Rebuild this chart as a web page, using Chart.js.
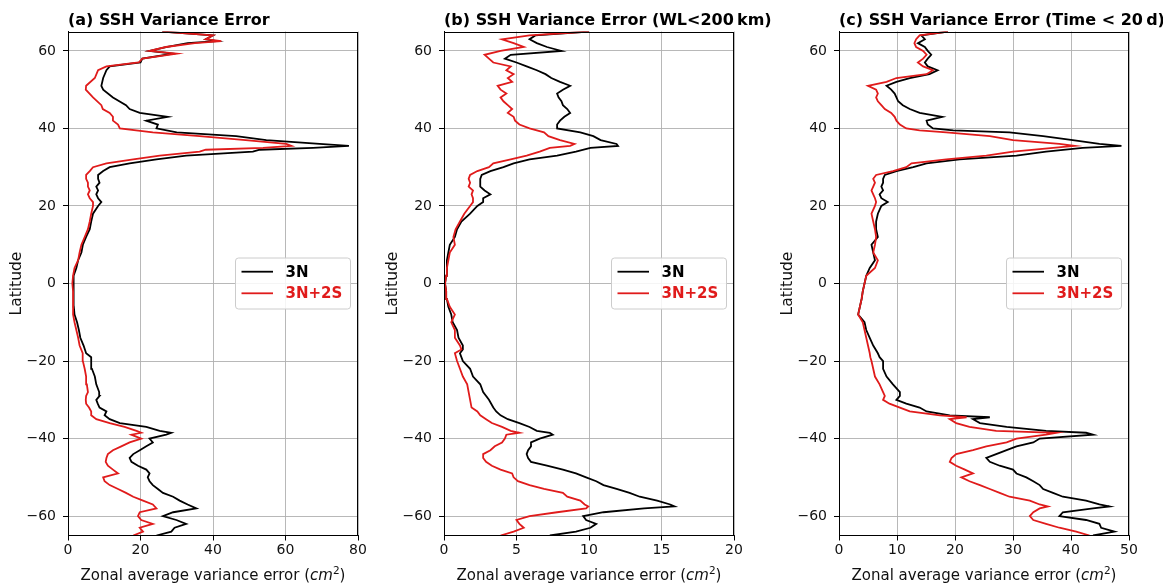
<!DOCTYPE html>
<html>
<head>
<meta charset="utf-8">
<script src="https://cdn.jsdelivr.net/npm/chart.js@4.4.1/dist/chart.umd.min.js"></script>
<style>
  html, body { margin: 0; padding: 0; background: #fff; }
  body { width: 1165px; height: 584px; position: relative; overflow: hidden; }
  canvas { position: absolute; top: 0; }
</style>
</head>
<body>
<canvas id="panelA"></canvas>
<canvas id="panelB"></canvas>
<canvas id="panelC"></canvas>
<script>
// ── data ─────────────────────────────────────────
const SERIES_NAMES = ["3N", "3N+2S"];
const PANEL_TITLES = [
  "(a) SSH Variance Error",
  "(b) SSH Variance Error (WL<200\u2009km)",
  "(c) SSH Variance Error (Time < 20\u2009d)",
];
const X_TITLE = ["Zonal average variance error (", "cm", "2", ")"];
const Y_TITLE = "Latitude";

const LAT_RANGE = [-65, 65];
const LAT_TICKS = [-60, -40, -20, 0, 20, 40, 60];
const X_TICKS_A = [0, 20, 40, 60, 80];
const X_TICKS_B = [0, 5, 10, 15, 20];
const X_TICKS_C = [0, 10, 20, 30, 40, 50];

// (a) total
const LAT_A = [-65,-64,-63,-62,-61,-60,-59,-58,-57,-56,-55,-54,-53,-52,-51,-50,-49,-48,-47,-46,-45,-44,-43,-42,-41,-40,-39,
  -38.5,-38,-37,-36,-35,-34,-33,-32,-31,-30,-29,-28,-26,-24,-22,-20,-19,-18,-16,-14,-12,-10,-8,-6,-4,-2,0,
  2,4,6,8,10,12,14,16,18,20,21,22,23,24,25,26,27,28,29,30,31,32,33,34,34.5,35,35.5,
  36,37,38,39,40,41,42,43,44,45,46,48,50,51,53,55,56,57,58,59.3,60,61,62,62.5,63,64,65];
const A_3N = [24.4,28.5,29.4,32.6,29.9,26.2,29,35.4,33,30.8,29,26.2,24.8,23.4,22.5,22,22.5,21.6,19.3,17.5,17,18,19.8,21.6,23.4,22.5,27.1,
  28.5,25.3,21.6,14.3,11.5,10.1,10.6,8.7,8.2,7.8,8.7,8.6,7.8,7.4,6.6,6.4,6.4,5,4.3,3.4,3,2.5,1.8,1.6,1.6,1.6,1.4,
  1.6,2.3,2.8,3.7,4.1,5,6,6.4,6.9,8.3,9.2,8.3,7.8,8.3,7.8,8.7,8.3,8.3,9.7,11.5,17,24.4,32.6,51,52.9,67.6,77.5,
  69.4,54.7,46.4,30,24.4,24.8,21.6,27.5,19.8,17,16,12.4,9.7,9.2,9.7,10.6,11.5,20,20.5,29,22.5,27,33,41,38,40,26];
const A_3N2S = [18,20.7,19.8,23.4,20.2,19.3,19.8,24.4,23.4,20.7,18,16,13.8,11.5,10.1,9.7,13.8,12.4,11,10.4,10.6,11,12.4,14.7,17,20.2,17.5,
  20.2,18.9,15.6,11.5,7.8,6.4,6.4,5.8,5,4.9,5,5.5,5.2,5,4.6,4.1,4.1,4,3.2,2.8,2.3,1.8,1.4,1.4,1.4,1.4,1.2,
  1.4,1.8,2.8,3.2,3.7,4.6,5.5,6,6.4,6.9,6.9,6,5.5,6,5.5,5.5,5,5,6,6.9,10.6,18,25.3,36.3,38,53.8,61.6,
  60.2,49,36.3,23.4,14.3,13.8,12.4,12.4,11.5,9.6,9.2,6.9,4.9,5,7.4,8.3,10.6,19.5,20.5,30,22.5,27,35,42.3,38,40,26];

// (b) WL < 200 km
const LAT_B = [-65,-64,-63,-62,-61,-60,-59,-58,-57.5,-57,-56,-55,-54,-53,-52,-51,-50,-49,-48,-47,-46,-45,-44,-43,-42,-41,-40,-39,
  -38.5,-38,-37,-36,-35,-34,-33,-32,-30,-28,-26,-24,-22,-20,-18,-17,-16,-14,-12,-10,-8,-6,-4,-2,0,
  2,4,6,8,10,12,14,16,18,20,21,22,23,24,25,26,27,28,29,30,31,32,33,34,35,35.5,
  36,37,38,39,40,41,42,43,44,45,46,47,48,49,50,51,52,53,54,55,56,57,58,59,60,61,62,63,64,65];
const B_3N = [7.3,9.1,10.1,10.5,9.8,9.6,11,13.8,15.9,15.6,14.7,13.5,12.8,11.9,11,10.5,9.8,9.1,8.2,7.1,6,5.8,5.7,5.8,6,6,6.6,7.5,
  7.3,6.4,5.9,5.2,4.4,3.9,3.6,3.4,3.1,2.7,2.5,2,1.8,1.3,1.1,1.3,1.3,1,0.9,0.6,0.5,0.3,0.2,0.15,0.07,
  0.15,0.2,0.2,0.3,0.4,0.75,0.9,1.2,1.8,2.3,2.7,2.7,3.2,2.8,2.5,2.5,2.5,2.6,3.2,4.1,4.8,5.9,7.8,9.1,10.1,12,
  11.9,10.8,10.3,9.4,7.8,7.8,8,8.3,8.7,8.5,8.2,8.1,7.9,7.8,8.2,8.7,8,7.4,7,6.4,5.7,5,4.2,4.6,8.1,7.1,6.4,5.9,6.3,10];
const B_3N2S = [3.9,4.8,5.5,5.2,5,5.9,7.8,9.8,9.95,9.7,9.4,8.5,8.2,6.9,5.9,5.1,4.8,4.7,3.9,3.3,2.9,2.7,2.7,3.2,3.5,4,4.2,4.3,
  5.2,4.6,4,3.3,2.9,2.5,2.3,1.9,1.8,1.7,1.6,1.3,1.1,0.9,0.75,1.2,1.1,0.75,0.75,0.5,0.75,0.4,0.2,0.15,0.07,
  0.15,0.2,0.3,0.4,0.75,0.65,0.8,1.1,1.4,1.8,2,2,1.9,2,1.7,1.8,1.7,1.8,2.3,3.1,3.4,4.6,5.7,6.6,7.3,8.7,
  9,8,7.2,6.9,5.9,5.2,4.9,4.8,4.4,4.7,4.4,4.1,3.9,4.3,3.9,3.7,4.7,4.4,4.8,4.3,4.6,3.4,3.1,2.8,3.9,5.5,4.8,4,5.9,10];

// (c) Time < 20 d
const LAT_C = [-65,-64,-63,-62,-61,-60,-59,-58,-57.5,-57,-56,-55,-54,-53,-52,-51,-50,-49,-48,-47,-46,-45,-44,-43,-42,-41,-40,-39,
  -38.5,-38,-37,-36,-35,-34.5,-34,-33,-32,-31,-30,-29,-28,-26,-24,-22,-20,-19,-18,-16,-14,-12,-10,-8,-6,-4,-2,0,
  2,4,6,8,10,12,14,16,18,20,21,22,23,24,25,26,27,28,29,30,31,32,33,34,35,35.5,
  36,37,38,39,39.5,40,41,42,43,44,45,46,47,48,49,50,51,52,53,54,55,56,57,58,59,60,61,62,63,64,65];
const C_3N = [43.8,47.5,45.2,44.9,42.6,38,38.6,43.8,46.6,44.9,42.6,38.6,36.9,35.2,34.6,33.5,32.3,30.6,30,27.7,26,25.4,27.1,28.9,30.6,33.5,34.6,43.8,
  42.6,35.7,28.9,24.3,23.1,26,19.1,15.1,13.9,11.6,9.9,10.5,10.5,9.3,8.2,7.6,7.6,7,6.7,5.9,5.3,4.7,4.4,3.3,3.6,3.9,4.1,4.4,
  4.7,5.3,6.2,5.9,5.6,6.7,6.4,6.4,6.7,7.3,8.4,7.3,7,7.6,7.3,7.6,7.6,7.9,9.9,12.8,15.1,20.8,30.6,35.7,42,48.7,
  44.9,40.3,35.2,29.4,19.7,16.2,15.3,15.1,17.8,13.9,12.2,11,10.2,9.9,9.6,9,8.2,9.9,12.2,15.6,17,15.3,14.8,15.3,15.9,15.3,14.8,13.6,14.8,14.2,18.8];
const C_3N2S = [43.2,40.9,38,35.7,33.5,32.9,33.5,34.6,36,34.6,32.9,29.4,27.7,26,24.3,22.5,21.1,23.1,21.7,20.2,19.1,19.4,20.2,23.1,25.4,28.9,30.6,35.7,
  37.5,27.1,22.5,20.2,19.1,22,17.4,12.2,10.5,8.7,7.6,7.9,7.6,7,6.2,5.9,5.6,5.4,5.3,5,4.7,4.4,4.1,3.3,3.6,3.9,4.1,4.4,
  4.7,6.2,6.7,5.9,6.2,6.4,6.2,5.9,5.6,6.2,6.4,6.2,5.9,5.6,5.9,6.2,5.9,6.4,9.3,11.6,12.5,18.5,25.4,30,36.9,40.6,
  38,30,26,18.5,13.9,11.6,10.5,9.9,9.6,9,7.9,7.3,6.7,6.4,6.7,6.4,5,8.2,9.9,15.1,16.2,14.5,13.6,14.5,15.1,14.5,13.3,13,13.3,13.9,18.8];

// ── style ────────────────────────────────────────
const FONT = "'DejaVu Sans', sans-serif";
const SERIES_COLORS = ["#000000", "#e01b1b"];
const TEXT_COLOR = "#111111";
const GRID_COLOR = "#b0b0b0";
const PLOT_TOP = 31.5;
const PLOT_BOTTOM = 535.5;
const PLOT_W = 290;
const LEFT_SPACE = 68;

const PANELS = [
  { id: "panelA", plotLeft: 68,  padRight: 14, title: PANEL_TITLES[0], lat: LAT_A, series: [A_3N, A_3N2S], xTicks: X_TICKS_A },
  { id: "panelB", plotLeft: 444, padRight: 44, title: PANEL_TITLES[1], lat: LAT_B, series: [B_3N, B_3N2S], xTicks: X_TICKS_B },
  { id: "panelC", plotLeft: 839, padRight: 34, title: PANEL_TITLES[2], lat: LAT_C, series: [C_3N, C_3N2S], xTicks: X_TICKS_C },
];

// ── 標題 / 外框 / x 軸標題 / 圖例 ─────────────────
const panelDecor = {
  id: "panelDecor",
  afterDatasetsDraw(chart, args, opts) {
    const { ctx, chartArea: a } = chart;
    ctx.save();

    // frame (all four spines)
    ctx.strokeStyle = "#000";
    ctx.lineWidth = 1;
    ctx.strokeRect(Math.round(a.left) + 0.5, Math.round(a.top) + 0.5,
      Math.round(a.right - a.left) - 1, Math.round(a.bottom - a.top) - 1);

    // legend, centre right
    const boxW = 115, boxH = 51;
    const x0 = a.right - 7.5 - boxW;
    const cy = (a.top + a.bottom) / 2;
    const y0 = cy - boxH / 2;
    ctx.beginPath();
    ctx.roundRect(x0, y0, boxW, boxH, 3);
    ctx.fillStyle = "rgba(255,255,255,0.85)";
    ctx.fill();
    ctx.strokeStyle = "#cccccc";
    ctx.stroke();
    SERIES_NAMES.forEach((name, i) => {
      const y = cy - 11.8 + i * 21.6;
      ctx.strokeStyle = SERIES_COLORS[i];
      ctx.lineWidth = 1.8;
      ctx.beginPath();
      ctx.moveTo(x0 + 6, y);
      ctx.lineTo(x0 + 37.5, y);
      ctx.stroke();
      ctx.fillStyle = SERIES_COLORS[i];
      ctx.font = "bold 15px " + FONT;
      ctx.textBaseline = "middle";
      ctx.textAlign = "left";
      ctx.fillText(name, x0 + 50, y + 1);
    });

    // panel title, left aligned
    ctx.fillStyle = "#000";
    ctx.font = "bold 16px " + FONT;
    ctx.textBaseline = "alphabetic";
    ctx.textAlign = "left";
    ctx.fillText(opts.title, a.left, 25);

    // x title with italic cm and superscript 2
    const parts = [
      { t: X_TITLE[0], f: "15px " + FONT, dy: 0 },
      { t: X_TITLE[1], f: "italic 15px " + FONT, dy: 0 },
      { t: X_TITLE[2], f: "10.5px " + FONT, dy: -6 },
      { t: X_TITLE[3], f: "15px " + FONT, dy: 0 },
    ];
    let total = 0;
    parts.forEach(p => { ctx.font = p.f; p.w = ctx.measureText(p.t).width; total += p.w; });
    let x = (a.left + a.right) / 2 - total / 2;
    ctx.fillStyle = TEXT_COLOR;
    parts.forEach(p => {
      ctx.font = p.f;
      ctx.fillText(p.t, x, 580 + p.dy);
      x += p.w;
    });
    ctx.restore();
  },
};

function drawPanel(p) {
  const canvas = document.getElementById(p.id);
  canvas.width = LEFT_SPACE + PLOT_W + p.padRight;
  canvas.height = 584;
  canvas.style.left = (p.plotLeft - LEFT_SPACE) + "px";

  const tickFont = { family: FONT, size: 14 };
  const minus = v => String(v).replace("-", "\u2212");

  return new Chart(canvas, {
    type: "scatter",
    data: {
      datasets: p.series.map((vals, i) => ({
        label: SERIES_NAMES[i],
        data: p.lat.map((lat, j) => ({ x: vals[j], y: lat })),
        showLine: true,
        borderColor: SERIES_COLORS[i],
        backgroundColor: SERIES_COLORS[i],
        borderWidth: 1.8,
        pointRadius: 0,
        tension: 0,
        order: 1 - i,
      })),
    },
    options: {
      responsive: false,
      animation: false,
      layout: { padding: { left: 3.4, right: p.padRight, top: PLOT_TOP, bottom: 0 } },
      plugins: {
        legend: { display: false },
        tooltip: { enabled: false },
        panelDecor: { title: p.title },
      },
      scales: {
        x: {
          type: "linear",
          position: "bottom",
          min: p.xTicks[0],
          max: p.xTicks[p.xTicks.length - 1],
          afterBuildTicks: s => { s.ticks = p.xTicks.map(v => ({ value: v })); },
          afterFit: s => { s.height = 584 - PLOT_BOTTOM; },
          grid: { color: GRID_COLOR, lineWidth: 0.9, tickColor: "#000", tickLength: 5, tickWidth: 1 },
          border: { color: "#000", width: 1 },
          ticks: { color: TEXT_COLOR, font: tickFont, padding: 1.5, maxRotation: 0 },
        },
        y: {
          type: "linear",
          min: LAT_RANGE[0],
          max: LAT_RANGE[1],
          afterBuildTicks: s => { s.ticks = LAT_TICKS.map(v => ({ value: v })); },
          afterFit: s => { s.width = LEFT_SPACE - 3.4; },
          grid: { color: GRID_COLOR, lineWidth: 0.9, tickColor: "#000", tickLength: 5, tickWidth: 1 },
          border: { color: "#000", width: 1 },
          ticks: { color: TEXT_COLOR, font: tickFont, padding: 7, callback: minus },
          title: {
            display: true,
            text: Y_TITLE,
            color: TEXT_COLOR,
            font: { family: FONT, size: 15.5 },
            padding: { top: 4, bottom: 4 },
          },
        },
      },
    },
    plugins: [panelDecor],
  });
}

PANELS.forEach(drawPanel);
</script>
</body>
</html>
